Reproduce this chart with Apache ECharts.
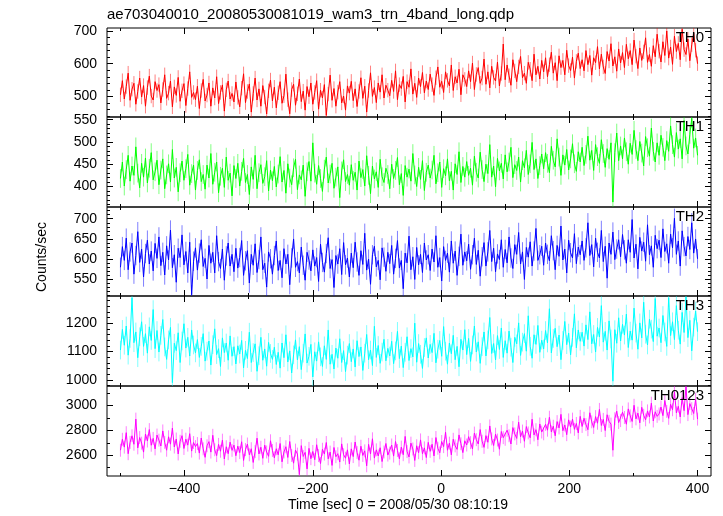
<!DOCTYPE html>
<html><head><meta charset="utf-8">
<script src="https://cdn.jsdelivr.net/npm/echarts@6/dist/echarts.min.js"></script>
<style>html,body{margin:0;padding:0;background:#fff}#c{width:723px;height:516px}</style>
</head><body><div id="c"></div>
<script>
const TITLE = "ae703040010_20080530081019_wam3_trn_4band_long.qdp";
const X_LABEL = "Time [sec] 0 = 2008/05/30 08:10:19";
const Y_LABEL = "Counts/sec";
const T_START = -500, T_STEP = 3;
const bandNames = ["TH0", "TH1", "TH2", "TH3", "TH0123"];
const bandColors = ["#ff0000", "#00ff00", "#0000ff", "#00ffff", "#ff00ff"];
// typical error-bar half length read from the light fringe of each band
const bandErrors = [22, 21, 24, 33, 52];

const th0 = [
505,548,492,530,571,488,522,540,476,515,556,498,533,470,527,562,501,489,545,518,
536,480,521,566,494,510,547,468,529,503,558,485,517,539,472,524,575,497,512,490,
531,463,518,552,486,504,541,470,526,495,560,478,512,535,455,520,547,492,509,483,
544,497,468,525,569,481,515,538,452,509,556,489,523,470,533,498,446,517,550,486,
528,465,511,545,479,502,568,490,447,521,537,473,508,553,484,516,458,530,499,541,
476,512,548,461,519,495,536,442,507,565,488,524,470,513,545,480,501,458,532,510,
546,487,523,469,515,557,494,531,452,518,572,500,527,481,541,513,566,495,534,519,
502,549,515,578,490,536,524,561,483,545,528,584,507,540,497,556,530,573,511,547,
521,568,536,503,557,590,528,546,512,575,549,532,596,518,560,541,583,505,566,552,
530,578,545,602,521,567,588,540,556,614,537,575,526,592,558,547,605,532,570,660,
551,596,563,534,612,578,545,590,622,557,571,540,604,583,548,629,566,592,553,610,
575,618,560,597,635,571,603,548,624,588,610,566,641,594,579,620,556,607,632,585,
612,578,640,597,625,565,618,603,652,584,629,590,570,637,608,661,593,621,577,645,
602,634,588,659,615,640,597,672,623,585,648,610,636,679,604,628,592,655,621,690,
638,605,667,625,700,617,651,598,684,637,662,612,705,643,628,675,609,658,694,641,
600];
const th1 = [
418,455,401,438,470,412,446,425,489,430,397,452,421,464,408,441,476,415,433,459,
404,437,462,395,426,451,410,483,419,443,388,431,457,414,440,472,403,429,448,392,
436,460,411,427,394,448,419,474,405,432,455,386,423,441,398,466,414,430,379,447,
418,452,401,434,463,409,427,382,444,416,470,395,431,449,407,422,458,390,437,413,
445,399,428,467,410,436,385,451,419,404,442,461,393,426,415,448,378,433,456,412,
498,430,405,447,418,389,439,466,408,428,452,396,421,444,375,435,460,411,427,403,
449,414,432,392,457,420,438,401,469,425,384,446,417,433,398,461,422,409,441,427,
395,450,418,436,465,404,429,380,447,421,439,412,474,426,400,443,416,458,391,432,
448,419,437,470,406,431,455,398,440,424,462,413,434,392,451,427,478,409,445,421,
456,425,441,403,468,432,419,477,438,411,450,429,494,421,446,399,463,435,452,417,
471,433,455,488,420,449,436,466,410,458,442,481,427,451,499,438,462,418,447,473,
440,476,452,431,490,459,444,507,466,425,471,448,483,437,462,496,451,434,478,455,
488,447,472,513,459,481,436,494,467,452,505,474,443,485,461,498,365,476,520,458,
491,462,509,478,450,497,472,526,483,458,501,475,446,512,487,468,531,479,455,498,
470,515,488,458,503,479,536,494,466,521,484,507,462,548,491,473,517,553,486,509,
470];
const th2 = [
580,631,597,652,574,618,640,563,609,668,592,625,556,614,647,588,620,571,639,602,
655,584,617,561,633,598,672,579,611,543,627,604,660,586,619,566,642,512,595,628,
573,615,648,582,602,551,634,590,617,566,658,594,577,625,548,608,640,583,612,569,
627,578,604,646,560,596,621,541,612,585,638,567,599,655,574,590,531,618,601,563,
609,645,572,597,554,626,588,612,537,603,650,580,594,566,630,585,548,617,598,571,
623,583,604,545,637,592,568,614,653,577,599,530,609,588,626,562,641,586,603,556,
615,579,642,593,560,621,587,664,573,600,538,611,632,581,597,549,628,605,570,617,
589,634,563,602,646,578,597,527,615,591,657,574,606,550,629,586,612,567,640,598,
611,572,625,593,658,580,604,546,631,597,615,568,645,590,620,560,607,662,585,618,
596,637,575,611,652,587,622,558,606,641,583,618,671,594,627,569,613,599,648,580,
624,591,655,603,577,636,612,666,588,618,550,629,605,643,583,620,676,597,611,632,
585,640,612,596,658,621,574,634,607,682,598,625,566,647,616,603,663,589,630,611,
645,597,628,690,609,636,581,652,617,603,671,594,632,553,640,612,667,599,625,648,
606,661,623,590,648,617,698,603,637,576,654,620,642,595,685,611,633,580,659,626,
647,604,675,619,638,590,662,628,701,612,645,583,670,631,608,656,624,690,615,650,
601];
const th3 = [
1105,1178,1122,1190,1087,1146,1290,1131,1169,1078,1152,1205,1118,1163,1094,1187,1139,1248,1110,1174,
1098,1157,1213,1116,1072,1141,1185,990,1129,1103,1166,1061,1137,1198,1112,1150,1084,1176,1123,1095,
1142,1079,1118,1163,1066,1101,1137,1052,1124,1180,1089,1110,1047,1148,1096,1130,1069,1155,1083,1117,
1056,1120,1091,1139,1042,1104,1075,1168,1061,1096,1127,1030,1085,1150,1069,1109,1048,1132,1093,1072,
1115,1054,1097,1041,1130,1078,1159,1063,1102,1024,1088,1141,1070,1117,1036,1094,1162,1059,1083,1125,
1010,1099,1066,1134,1081,1047,1120,1072,1176,1055,1090,1038,1112,1076,1145,1061,1103,1029,1087,1128,
1064,1109,1045,1138,1082,1116,1033,1094,1160,1071,1105,1050,1189,1079,1121,1058,1098,1143,1067,1111,
1084,1136,1057,1102,1171,1075,1119,1043,1097,1152,1068,1110,1081,1200,1062,1128,1090,1040,1114,1148,
1077,1125,1096,1164,1060,1108,1139,1083,1188,1101,1055,1130,1092,1157,1071,1118,1046,1143,1105,1177,
1089,1146,1065,1123,1190,1098,1134,1058,1117,1169,1084,1141,1220,1093,1128,1070,1156,1107,1183,1079,
1138,1094,1172,1115,1061,1150,1127,1201,1086,1133,1163,1101,1226,1118,1076,1159,1125,1192,1097,1140,
1109,1174,1130,1251,1095,1146,1182,1117,1158,1071,1139,1206,1124,1165,1088,1150,1233,1113,1176,1136,
1168,1119,1194,1142,1240,1127,1160,1098,1185,1151,1262,1133,1171,1105,1208,1144,995,1177,1129,1219,
1137,1196,1158,1232,1114,1172,1140,1253,1165,1108,1201,1148,1274,1161,1123,1214,1179,1135,1287,1154,
1183,1131,1227,1169,1118,1290,1156,1205,1142,1262,1175,1126,1238,1167,1293,1149,1210,1102,1186,1243,
1170];
const th0123 = [
2640,2728,2665,2781,2612,2703,2756,2688,2890,2659,2742,2697,2625,2770,2714,2806,2680,2735,2651,2762,
2721,2674,2795,2703,2640,2748,2689,2818,2666,2730,2610,2712,2757,2654,2729,2681,2773,2633,2702,2669,
2694,2617,2738,2651,2583,2676,2709,2625,2760,2644,2597,2687,2632,2721,2570,2668,2612,2705,2639,2681,
2596,2673,2621,2708,2558,2645,2690,2603,2652,2542,2629,2737,2610,2664,2575,2681,2626,2591,2716,2638,
2579,2652,2603,2694,2547,2626,2668,2582,2710,2598,2536,2641,2609,2445,2677,2590,2623,2490,2655,2572,
2630,2564,2684,2597,2533,2648,2609,2702,2571,2625,2518,2662,2588,2612,2545,2691,2604,2576,2643,2530,
2651,2589,2706,2621,2560,2672,2598,2635,2515,2687,2610,2732,2577,2643,2594,2660,2549,2626,2694,2601,
2617,2682,2593,2710,2638,2571,2665,2604,2751,2629,2586,2697,2650,2558,2676,2620,2723,2612,2659,2581,
2703,2631,2688,2594,2742,2656,2619,2710,2669,2785,2640,2697,2603,2728,2675,2647,2763,2692,2621,2716,
2682,2749,2701,2650,2778,2725,2690,2806,2712,2663,2757,2704,2835,2731,2678,2769,2722,2648,2790,2741,
2728,2801,2756,2690,2822,2771,2735,2866,2748,2794,2712,2830,2779,2740,2889,2763,2805,2724,2851,2786,
2772,2848,2801,2905,2787,2833,2756,2870,2819,2928,2797,2843,2765,2884,2826,2890,2808,2855,2779,2912,
2831,2897,2846,2805,2941,2868,2823,2910,2857,2968,2839,2888,2798,2925,2872,2850,2640,2893,2954,2862,
2878,2945,2903,2849,2972,2916,2871,3001,2892,2938,2860,2985,2921,2884,2956,2907,3018,2875,2949,2912,
2931,2987,2918,3040,2952,2896,3009,2965,3110,2940,2993,2907,3062,2958,3150,2926,3015,2974,2935,3050,
2890];
const bandData = [th0, th1, th2, th3, th0123];

// axis ticks
const X_MIN = -521, X_MAX = 421;
const xMajorTicks = [-400, -200, 0, 200, 400];
const xMinorTicks = [-500, -300, -100, 100, 300];
const yRanges = [[437, 709], [354, 556], [509, 729], [978, 1296], [2433, 3156]];
const yMajorTicks = [[500, 600, 700], [400, 450, 500, 550], [550, 600, 650, 700], [1000, 1100, 1200], [2600, 2800, 3000]];
const yMinorSteps = [20, 10, 10, 20, 100];

// layout
const PLOT_LEFT = 107, PLOT_WIDTH = 604;
const panelTops = [28, 117, 207, 296, 386];
const panelHeights = [89, 90, 89, 90, 90];
const FONT = '"Liberation Sans", Arial, Helvetica, sans-serif';

function minorList(range, step, majors) {
  const out = [];
  for (let v = Math.ceil(range[0] / step) * step; v <= range[1]; v += step) {
    if (majors.indexOf(v) < 0) out.push(v);
  }
  return out;
}
const fmtX = v => String(v).replace('-', '\u2212');
const fmtY = v => String(v);

const grids = [], xAxes = [], yAxes = [], series = [], graphics = [];
for (let i = 0; i < 5; i++) {
  grids.push({left: PLOT_LEFT, width: PLOT_WIDTH, top: panelTops[i], height: panelHeights[i],
    show: true, borderColor: '#000', borderWidth: 1, backgroundColor: 'transparent'});
  const xs = [
    ['bottom', xMajorTicks, 6, i === 4],
    ['bottom', xMinorTicks, 3, false],
    ['top', xMajorTicks, 6, false],
    ['top', xMinorTicks, 3, false]
  ];
  xs.forEach(([pos, ticks, len, lab]) => {
    xAxes.push({gridIndex: i, type: 'value', min: X_MIN, max: X_MAX, position: pos,
      axisLine: {show: false, onZero: false}, splitLine: {show: false},
      axisTick: {show: true, inside: true, length: len, customValues: ticks, lineStyle: {color: '#000', width: 1}},
      axisLabel: {show: lab, customValues: ticks, margin: 6, fontSize: 14, color: '#000', fontFamily: FONT, formatter: fmtX}
    });
  });
  const minors = minorList(yRanges[i], yMinorSteps[i], yMajorTicks[i]);
  const ys = [
    ['left', yMajorTicks[i], 6, true],
    ['left', minors, 3, false],
    ['right', yMajorTicks[i], 6, false],
    ['right', minors, 3, false]
  ];
  ys.forEach(([pos, ticks, len, lab]) => {
    yAxes.push({gridIndex: i, type: 'value', min: yRanges[i][0], max: yRanges[i][1], position: pos,
      axisLine: {show: false, onZero: false}, splitLine: {show: false},
      axisTick: {show: true, inside: true, length: len, customValues: ticks, lineStyle: {color: '#000', width: 1}},
      axisLabel: {show: lab, customValues: ticks, margin: 10, fontSize: 14, color: '#000', fontFamily: FONT, formatter: fmtY}
    });
  });
  const data = bandData[i].map((v, k) => [T_START + k * T_STEP, v]);
  const err = bandErrors[i], col = bandColors[i];
  series.push({type: 'custom', xAxisIndex: 4 * i, yAxisIndex: 4 * i, data: data, silent: true, z: 1, clip: true,
    renderItem: (params, api) => {
      const x = api.value(0), y = api.value(1);
      const p1 = api.coord([x, y - err]), p2 = api.coord([x, y + err]);
      return {type: 'line', shape: {x1: p1[0], y1: p1[1], x2: p2[0], y2: p2[1]},
        style: {stroke: col, lineWidth: 1, opacity: 0.5}};
    }});
  series.push({type: 'line', name: bandNames[i], xAxisIndex: 4 * i, yAxisIndex: 4 * i, data: data, showSymbol: false,
    silent: true, z: 2, lineStyle: {width: 1, color: col}});
  graphics.push({type: 'text', x: 704, y: panelTops[i] + 10, z: 10,
    style: {text: bandNames[i], textAlign: 'right', textVerticalAlign: 'middle', font: '15px ' + FONT, fill: '#000'}});
}
graphics.push({type: 'text', x: 107, y: 15, style: {text: TITLE, textAlign: 'left', textVerticalAlign: 'middle', font: '15px ' + FONT, fill: '#000'}});
graphics.push({type: 'text', x: 42, y: 257, rotation: Math.PI / 2, style: {text: Y_LABEL, textAlign: 'center', textVerticalAlign: 'middle', font: '14px ' + FONT, fill: '#000'}});
graphics.push({type: 'text', x: 398, y: 505, style: {text: X_LABEL, textAlign: 'center', textVerticalAlign: 'middle', font: '14px ' + FONT, fill: '#000'}});

const chart = echarts.init(document.getElementById('c'), null, {renderer: 'canvas'});
chart.setOption({animation: false, backgroundColor: '#fff', grid: grids, xAxis: xAxes, yAxis: yAxes, series: series, graphic: graphics});
</script>
</body></html>
